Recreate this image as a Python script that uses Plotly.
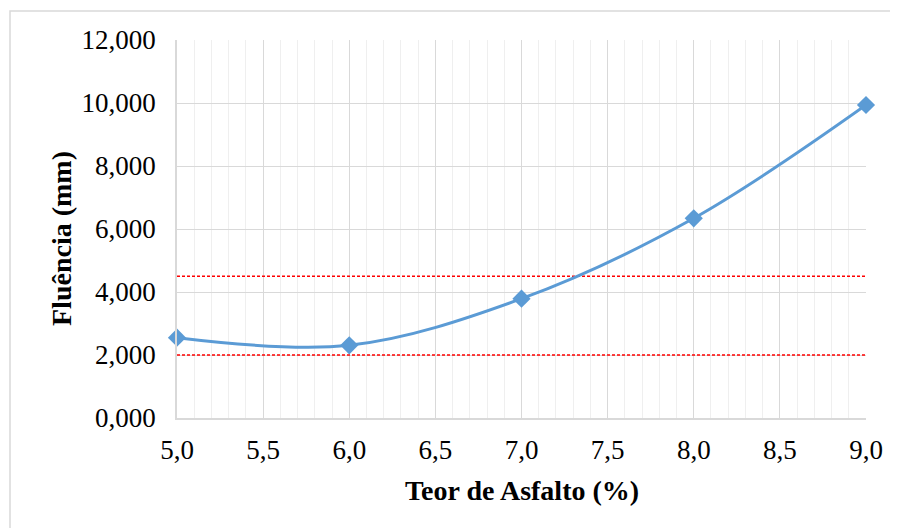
import plotly.graph_objects as go

teor = [5.0, 6.0, 7.0, 8.0, 9.0]
fluencia = [2549, 2308, 3787, 6340, 9937]
limite_inferior = 2000
limite_superior = 4500
x_ticks = [5.0, 5.5, 6.0, 6.5, 7.0, 7.5, 8.0, 8.5, 9.0]
x_ticktext = ["5,0", "5,5", "6,0", "6,5", "7,0", "7,5", "8,0", "8,5", "9,0"]
y_ticks = [0, 2000, 4000, 6000, 8000, 10000, 12000]
y_ticktext = ["0,000", "2,000", "4,000", "6,000", "8,000", "10,000", "12,000"]

OFF = 8  # page body margin
W, H = 898 - OFF, 528 - OFF
L, R, T, B = 177 - OFF, 866 - OFF, 40 - OFF, 418 - OFF
pw, ph = R - L, B - T

def px(x):
    return (x - OFF - L) / pw

def py(y):
    return (B - (y - OFF)) / ph

font = "Liberation Serif"

fig = go.Figure()
for yv in (limite_superior, limite_inferior):
    fig.add_trace(go.Scatter(
        x=[teor[0], teor[-1]], y=[yv, yv], mode="lines",
        line=dict(color="#FF0000", width=1.5, dash="3px,2px"),
        showlegend=False, hoverinfo="skip"))
fig.add_trace(go.Scatter(
    x=teor, y=fluencia, mode="lines+markers", cliponaxis=False,
    line=dict(color="#5B9BD5", width=3, shape="spline", smoothing=1),
    marker=dict(symbol="diamond", size=14, color="#5B9BD5"),
    showlegend=False))

fig.update_layout(
    width=W, height=H,
    margin=dict(l=L, r=W - R, t=T, b=H - B),
    paper_bgcolor="white", plot_bgcolor="white",
    font=dict(family=font, size=27, color="black"),
    xaxis=dict(
        range=[5.0, 9.0], tickvals=x_ticks, ticktext=x_ticktext,
        showgrid=True, gridcolor="#D9D9D9", gridwidth=1.3,
        minor=dict(dtick=0.1, tick0=5.0, showgrid=True, gridcolor="#EFEFEF", gridwidth=1),
        zeroline=False, showline=True, linecolor="#D9D9D9", linewidth=1.5,
        ticks="", ticklabelstandoff=7,
        tickfont=dict(family=font, size=27),
    ),
    yaxis=dict(
        range=[0, 12000], tickvals=y_ticks, ticktext=y_ticktext,
        showgrid=True, gridcolor="#D9D9D9", gridwidth=1.3,
        zeroline=False, showline=True, linecolor="#D9D9D9", linewidth=1.5,
        ticks="", ticklabelstandoff=14,
        tickfont=dict(family=font, size=27),
    ),
    annotations=[
        dict(text="<b>Teor de Asfalto (%)</b>", xref="paper", yref="paper",
             x=px(522), y=py(491), xanchor="center", yanchor="middle",
             showarrow=False, font=dict(family=font, size=28)),
        dict(text="<b>Fluência (mm)</b>", xref="paper", yref="paper",
             x=px(61), y=py(239), xanchor="center", yanchor="middle", textangle=-90,
             showarrow=False, font=dict(family=font, size=28)),
    ],
    shapes=[
        dict(type="rect", xref="paper", yref="paper",
             x0=px(10), x1=px(905), y0=py(535), y1=py(11),
             line=dict(color="#D9D9D9", width=1.5), fillcolor="rgba(0,0,0,0)", layer="below"),
    ],
)

fig.write_html("out.html")
